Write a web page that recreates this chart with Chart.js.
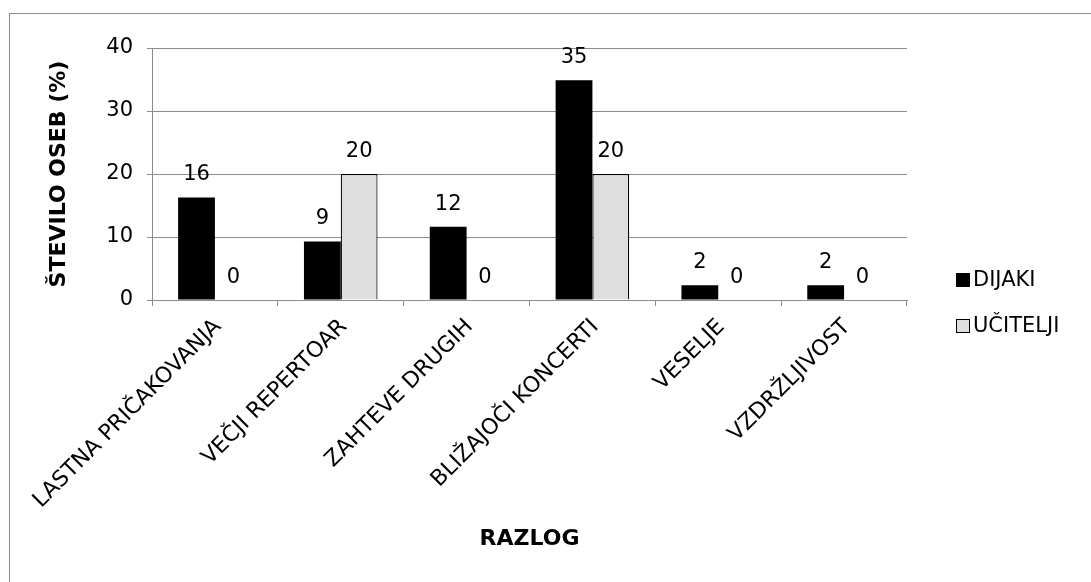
<!DOCTYPE html>
<html>
<head>
<meta charset="utf-8">
<script src="https://cdn.jsdelivr.net/npm/chart.js@4/dist/chart.umd.min.js"></script>
<style>
  html, body { margin: 0; padding: 0; background: #fff; overflow: hidden; }
  #wrap { position: relative; width: 1091px; height: 582px; }
  #frame { position: absolute; left: 9px; top: 13px; width: 1200px; height: 700px;
           border-left: 1.5px solid #8c8c8c; border-top: 1.5px solid #8c8c8c; pointer-events: none; }
  canvas { position: absolute; left: 0; top: 0; }
</style>
</head>
<body>
<div id="wrap">
  <canvas id="chart" width="1091" height="582"></canvas>
  <div id="frame"></div>
</div>
<script>
// Reasons given, share of respondents in each group (%)
const categories = ['LASTNA PRIČAKOVANJA', 'VEČJI REPERTOAR', 'ZAHTEVE DRUGIH', 'BLIŽAJOČI KONCERTI', 'VESELJE', 'VZDRŽLJIVOST'];
const dijaki = [16.28, 9.30, 11.63, 34.88, 2.33, 2.33];
const ucitelji = [0, 20, 0, 20, 0, 0];
const seriesNames = ['DIJAKI', 'UČITELJI'];
const yTicks = [0, 10, 20, 30, 40];
const yTitle = 'ŠTEVILO OSEB (%)';
const xTitle = 'RAZLOG';

const FONT = '"DejaVu Sans", Verdana, sans-serif';
const GRID = '#8c8c8c';

// Rounded value written above every bar
const valueLabels = {
  id: 'valueLabels',
  afterDatasetsDraw(chart) {
    const ctx = chart.ctx;
    ctx.save();
    ctx.font = '21px ' + FONT;
    ctx.fillStyle = '#000';
    ctx.textAlign = 'center';
    ctx.textBaseline = 'alphabetic';
    chart.data.datasets.forEach((ds, i) => {
      chart.getDatasetMeta(i).data.forEach((el, j) => {
        ctx.fillText(String(Math.round(ds.data[j])), el.x, el.y - 17);
      });
    });
    ctx.restore();
  }
};

// Legend at the right of the plot
const sideLegend = {
  id: 'sideLegend',
  afterDraw(chart) {
    const ctx = chart.ctx;
    ctx.save();
    ctx.font = '21px ' + FONT;
    ctx.textAlign = 'left';
    ctx.textBaseline = 'middle';
    chart.data.datasets.forEach((ds, i) => {
      const y = 280 + i * 46;
      ctx.fillStyle = ds.backgroundColor;
      ctx.fillRect(956, y - 7, 14, 14);
      if (ds.borderWidth) {
        ctx.strokeStyle = ds.borderColor;
        ctx.lineWidth = 1;
        ctx.strokeRect(956.5, y - 6.5, 13, 13);
      }
      ctx.fillStyle = '#000';
      ctx.fillText(ds.label, 973, y + 1);
    });
    ctx.restore();
  }
};

new Chart(document.getElementById('chart'), {
  type: 'bar',
  data: {
    labels: categories,
    datasets: [
      { label: seriesNames[0], data: dijaki, backgroundColor: '#000000', borderWidth: 0 },
      { label: seriesNames[1], data: ucitelji, backgroundColor: '#dedede', borderColor: '#000000', borderWidth: 1.2 }
    ]
  },
  options: {
    responsive: false,
    animation: false,
    events: [],
    datasets: { bar: { barPercentage: 1, categoryPercentage: 0.585 } },
    layout: { padding: { left: 0, top: 48, right: 184, bottom: 0 } },
    plugins: { legend: { display: false }, tooltip: { enabled: false } },
    scales: {
      x: {
        afterFit(s) { s.height = 282; },
        grid: { offset: true, drawOnChartArea: false, tickLength: 6, color: GRID, lineWidth: 1 },
        border: { display: true, color: GRID, width: 1 },
        ticks: { autoSkip: false, minRotation: 45, maxRotation: 45, padding: 8, labelOffset: 3,
                 color: '#000', font: { family: FONT, size: 22 } },
        title: { display: true, text: xTitle, color: '#000',
                 font: { family: FONT, size: 22, weight: 'bold' }, padding: { top: 0, bottom: 30 } }
      },
      y: {
        min: yTicks[0], max: yTicks[yTicks.length - 1],
        afterFit(s) { s.width = 152; },
        afterBuildTicks(s) { s.ticks = yTicks.map(v => ({ value: v })); },
        grid: { color: GRID, lineWidth: 1, tickLength: 5 },
        border: { display: true, color: GRID, width: 1 },
        ticks: { padding: 14, color: '#000', font: { family: FONT, size: 21 } },
        title: { display: true, text: yTitle, color: '#000',
                 font: { family: FONT, size: 22, weight: 'bold' }, padding: { top: 46, bottom: 0 } }
      }
    }
  },
  plugins: [valueLabels, sideLegend]
});
</script>
</body>
</html>
